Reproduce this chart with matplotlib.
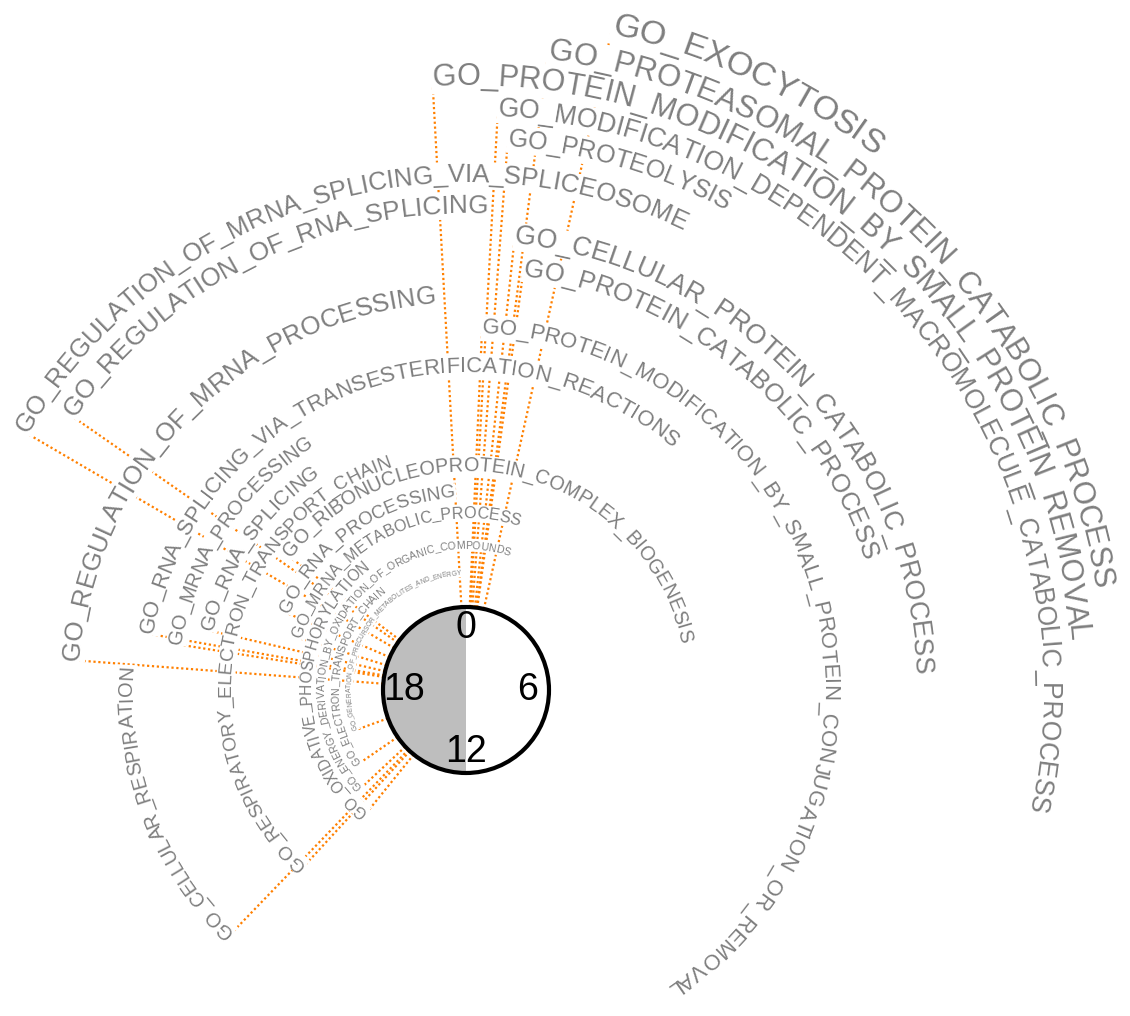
import numpy as np
import matplotlib.pyplot as plt
from matplotlib.font_manager import FontProperties
from matplotlib.patches import Circle

# gene sets, peak phase (hours on a 24 h clock), ring radius and label size
terms = [
    "GO_EXOCYTOSIS",
    "GO_PROTEASOMAL_PROTEIN_CATABOLIC_PROCESS",
    "GO_PROTEIN_MODIFICATION_BY_SMALL_PROTEIN_REMOVAL",
    "GO_MODIFICATION_DEPENDENT_MACROMOLECULE_CATABOLIC_PROCESS",
    "GO_PROTEOLYSIS",
    "GO_REGULATION_OF_MRNA_SPLICING_VIA_SPLICEOSOME",
    "GO_REGULATION_OF_RNA_SPLICING",
    "GO_CELLULAR_PROTEIN_CATABOLIC_PROCESS",
    "GO_PROTEIN_CATABOLIC_PROCESS",
    "GO_REGULATION_OF_MRNA_PROCESSING",
    "GO_PROTEIN_MODIFICATION_BY_SMALL_PROTEIN_CONJUGATION_OR_REMOVAL",
    "GO_RNA_SPLICING_VIA_TRANSESTERIFICATION_REACTIONS",
    "GO_CELLULAR_RESPIRATION",
    "GO_MRNA_PROCESSING",
    "GO_RNA_SPLICING",
    "GO_RESPIRATORY_ELECTRON_TRANSPORT_CHAIN",
    "GO_RIBONUCLEOPROTEIN_COMPLEX_BIOGENESIS",
    "GO_RNA_PROCESSING",
    "GO_MRNA_METABOLIC_PROCESS",
    "GO_OXIDATIVE_PHOSPHORYLATION",
    "GO_ENERGY_DERIVATION_BY_OXIDATION_OF_ORGANIC_COMPOUNDS",
    "GO_ELECTRON_TRANSPORT_CHAIN",
    "GO_GENERATION_OF_PRECURSOR_METABOLITES_AND_ENERGY",
]
phase_h = [0.83, 0.49, 23.79, 0.21, 0.29, 20.02, 20.32, 0.41, 0.52, 18.29,
           0.17, 18.67, 14.93, 18.6, 18.87, 14.84, 20.47, 19.55, 19.15,
           14.6, 15.13, 15.7, 16.67]
radius = [672, 636, 605, 575, 545, 508, 477, 449, 418, 388,
          357, 318, 334, 288, 260, 236, 219, 193, 172,
          155, 141, 127, 115]
font_pt = [24.5, 22.3, 22.1, 19.1, 18.0, 18.5, 18.8, 19.3, 18.5, 18.6,
           15.9, 15.9, 14.4, 14.5, 14.9, 13.8, 14.2, 13.5, 11.6,
           11.2, 7.6, 7.6, 4.8]

clock_hours = [0, 6, 12, 18]

CX, CY = 466, 690     # clock centre, pixel units
R_CLOCK = 83
TEXT_COL = '#7F7F7F'
LINE_COL = '#FF8000'

fig = plt.figure(figsize=(11.3, 10.16), dpi=100)
ax = fig.add_axes([0, 0, 1, 1])
ax.set_xlim(0, 1130)
ax.set_ylim(1016, 0)
ax.axis('off')
renderer = fig.canvas.get_renderer()


def polar(theta_deg, r):
    t = np.radians(theta_deg)
    return CX + r * np.sin(t), CY - r * np.cos(t)


# dotted spokes from the clock to each label ring
for ph, r in zip(phase_h, radius):
    th = ph / 24 * 360
    x0, y0 = polar(th, R_CLOCK)
    x1, y1 = polar(th, r)
    ax.plot([x0, x1], [y0, y1], color=LINE_COL, lw=1.6,
            linestyle=(0, (1, 1.2)), zorder=1)


def arc_text(label, ph, r, size):
    # letters laid along the circle, reading clockwise from the phase angle
    prop = FontProperties(family='Liberation Sans', size=size)
    th = np.radians(ph / 24 * 360)
    for ch in label:
        w, _, _ = renderer.get_text_width_height_descent(ch, prop, ismath=False)
        dth = w / r
        mid = th + dth / 2
        x, y = CX + r * np.sin(mid), CY - r * np.cos(mid)
        kw = dict(fontproperties=prop, ha='center', va='baseline',
                  rotation=-np.degrees(mid), rotation_mode='anchor')
        # white backing hides the spokes behind the letters
        ax.text(x, y, ch, color='white', zorder=2,
                bbox=dict(boxstyle='square,pad=0.05', fc='white', ec='none'), **kw)
        ax.text(x, y, ch, color=TEXT_COL, zorder=3, **kw)
        th += dth


for name, ph, r, fs in zip(terms, phase_h, radius, font_pt):
    arc_text(name, ph, r, fs)

# clock face: left half (12 -> 18 -> 0) shaded
ang = np.linspace(180, 360, 100)
xs, ys = polar(ang, R_CLOCK)
ax.fill(np.r_[xs, CX], np.r_[ys, CY], color='#BEBEBE', lw=0, zorder=5)
ang = np.linspace(0, 180, 100)
xs, ys = polar(ang, R_CLOCK)
ax.fill(np.r_[xs, CX], np.r_[ys, CY], color='white', lw=0, zorder=5)
ax.add_patch(Circle((CX, CY), R_CLOCK, fill=False, ec='black', lw=3, zorder=6))

for h in clock_hours:
    x, y = polar(h / 24 * 360, 62)
    ax.text(x, y, str(h), fontsize=27, family='Liberation Sans', color='black',
            ha='center', va='center', zorder=7)

fig.savefig('out.png', dpi=100)
